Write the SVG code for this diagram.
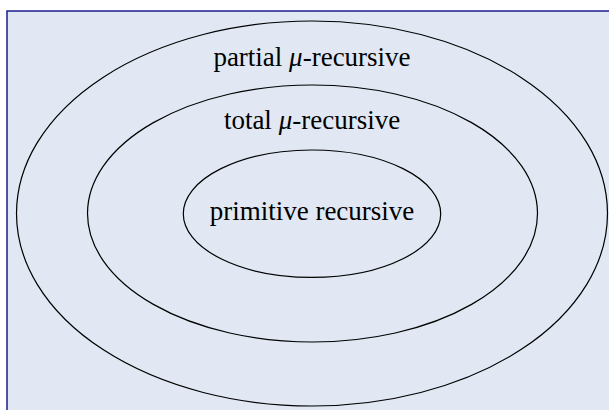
<svg xmlns="http://www.w3.org/2000/svg" width="609" height="410" viewBox="0 0 609 410">
<style>
.set{fill:none;stroke:#000;stroke-width:1.2}
.lbl{font-family:"Liberation Serif","Times New Roman",serif;font-size:27px;fill:#000;text-anchor:middle}
.mu{font-style:italic}
</style>
<rect x="0" y="0" width="609" height="410" fill="#ffffff"/>
<rect x="7" y="11" width="610" height="410" fill="#e1e8f3" stroke="#1c1c8e" stroke-width="1.5"/>
<g id="partial">
<ellipse class="set" cx="312" cy="213.5" rx="295.5" ry="192.5"/>
<text class="lbl" x="312" y="66">partial <tspan class="mu">μ</tspan>-recursive</text>
</g>
<g id="total">
<ellipse class="set" cx="312.5" cy="213.5" rx="225" ry="128.5"/>
<text class="lbl" x="312" y="129">total <tspan class="mu">μ</tspan>-recursive</text>
</g>
<g id="primitive">
<ellipse class="set" cx="312" cy="213.7" rx="128.7" ry="63.7"/>
<text class="lbl" x="312" y="220">primitive recursive</text>
</g>
<g id="connectors"/>
</svg>
